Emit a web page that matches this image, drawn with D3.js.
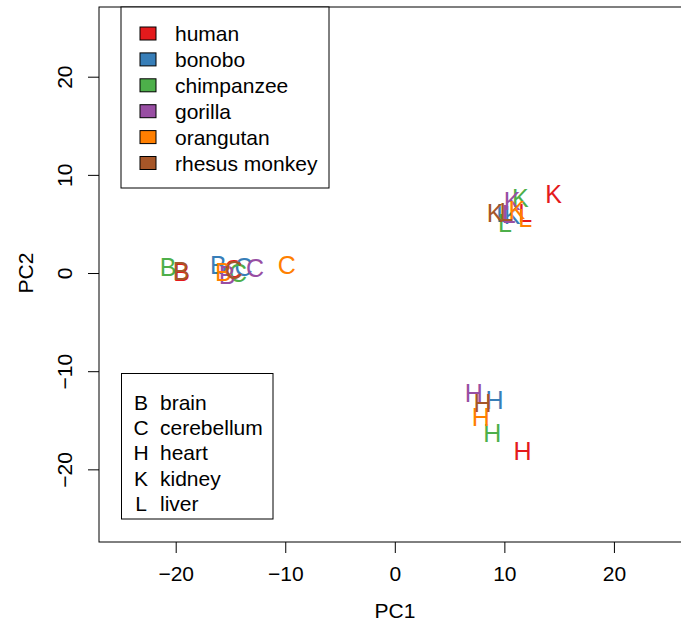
<!DOCTYPE html>
<html>
<head>
<meta charset="utf-8">
<script src="https://cdn.jsdelivr.net/npm/d3@7"></script>
<style>
  html, body { margin: 0; padding: 0; background: #fff; }
  svg { display: block; }
  text { font-family: "Liberation Sans", Arial, Helvetica, sans-serif; }
</style>
</head>
<body>
<svg id="chart" width="681" height="624"></svg>
<script>
// Species (colour legend) and tissue codes (letter legend)
const speciesNames = ["human", "bonobo", "chimpanzee", "gorilla", "orangutan", "rhesus monkey"];
const speciesColors = ["#E41A1C", "#377EB8", "#4DAF4A", "#984EA3", "#FF7F00", "#A65628"];
const tissueCodes = ["B", "C", "H", "K", "L"];
const tissueNames = ["brain", "cerebellum", "heart", "kidney", "liver"];

// Samples: species index, tissue code, PC1, PC2
const sampleSpecies = [
  0, 0, 0, 0, 0,
  1, 1, 1, 1, 1,
  2, 2, 2, 2, 2,
  3, 3, 3, 3, 3,
  4, 4, 4, 4, 4,
  5, 5, 5, 5, 5
];
const sampleTissue = [
  "B", "C", "H", "K", "L",
  "B", "C", "H", "K", "L",
  "B", "C", "H", "K", "L",
  "B", "C", "H", "K", "L",
  "B", "C", "H", "K", "L",
  "B", "C", "H", "K", "L"
];
const pc1 = [
  -19.45, -14.75, 11.65, 14.5, 11.9,
  -16.1, -13.8, 9.1, 10.7, 9.9,
  -20.7, -14.3, 8.9, 11.45, 10.05,
  -15.3, -12.75, 7.2, 10.7, 10.4,
  -15.65, -9.85, 7.85, 11.15, 11.9,
  -19.5, -14.7, 8.0, 9.15, 10.2
];
const pc2 = [
  0.13, 0.38, -18.1, 8.1, 6.1,
  0.8, 0.64, -12.93, 5.9, 6.1,
  0.6, 0.0, -16.3, 7.6, 5.05,
  -0.2, 0.48, -12.25, 7.3, 6.0,
  0.13, 0.8, -14.63, 6.4, 5.6,
  0.2, 0.3, -13.27, 6.1, 6.2
];

const xTicks = [-20, -10, 0, 10, 20];
const yTicks = [-20, -10, 0, 10, 20];

const svg = d3.select("#chart");
const fs = 21;        // axis and legend text
const markFs = 25;    // sample letters

const plot = { left: 99, top: 7, bottom: 542, right: 695 };

const x = d3.scaleLinear().domain([-27, 27.4]).range([plot.left, plot.right]);
const y = d3.scaleLinear().domain([-27.4, 27.1]).range([plot.bottom, plot.top]);

// Plot frame
svg.append("rect")
  .attr("x", plot.left).attr("y", plot.top)
  .attr("width", plot.right - plot.left).attr("height", plot.bottom - plot.top)
  .attr("fill", "none").attr("stroke", "#000").attr("stroke-width", 1);

// Axes
const xAxis = d3.axisBottom(x).tickValues(xTicks).tickSize(11).tickPadding(6)
  .tickFormat(d => d < 0 ? "\u2212" + Math.abs(d) : d);
const gx = svg.append("g").attr("transform", `translate(0,${plot.bottom})`).call(xAxis);
gx.select(".domain").remove();
gx.selectAll(".tick line").attr("stroke", "#000");
gx.selectAll(".tick text").attr("font-size", fs).attr("fill", "#000")
  .attr("font-family", "'Liberation Sans', Arial, sans-serif")
  .attr("dy", null).attr("y", 39);

const yAxis = d3.axisLeft(y).tickValues(yTicks).tickSize(11).tickPadding(6)
  .tickFormat(d => d < 0 ? "\u2212" + Math.abs(d) : d);
const gy = svg.append("g").attr("transform", `translate(${plot.left},0)`).call(yAxis);
gy.select(".domain").remove();
gy.selectAll(".tick line").attr("stroke", "#000");
gy.selectAll(".tick text")
  .attr("font-size", fs).attr("fill", "#000")
  .attr("font-family", "'Liberation Sans', Arial, sans-serif")
  .attr("x", null).attr("dy", null)
  .attr("text-anchor", "middle")
  .attr("transform", "translate(-27,0) rotate(-90)");

// Axis titles
svg.append("text")
  .attr("x", (x(-27) + x(27.4)) / 2 - 2)
  .attr("y", 618)
  .attr("text-anchor", "middle")
  .attr("font-size", fs)
  .text("PC1");
svg.append("text")
  .attr("transform", `translate(33,${y(0)}) rotate(-90)`)
  .attr("text-anchor", "middle")
  .attr("font-size", fs)
  .text("PC2");

// Sample letters
const samples = pc1.map((v, i) => ({ pc1: v, pc2: pc2[i], sp: sampleSpecies[i], t: sampleTissue[i] }));
svg.append("g").selectAll("text")
  .data(samples)
  .join("text")
  .attr("x", d => x(d.pc1))
  .attr("y", d => y(d.pc2))
  .attr("dy", "0.36em")
  .attr("text-anchor", "middle")
  .attr("font-size", markFs)
  .attr("fill", d => speciesColors[d.sp])
  .text(d => d.t);

// Species legend
const lg1 = svg.append("g");
lg1.append("rect")
  .attr("x", 121).attr("y", plot.top)
  .attr("width", 208).attr("height", 181)
  .attr("fill", "#fff").attr("stroke", "#000").attr("stroke-width", 1);
speciesNames.forEach((name, i) => {
  const cy = 33.5 + i * 25.9;
  lg1.append("rect")
    .attr("x", 140).attr("y", cy - 6.5)
    .attr("width", 16).attr("height", 13)
    .attr("fill", speciesColors[i]).attr("stroke", "#000").attr("stroke-width", 1);
  lg1.append("text")
    .attr("x", 175).attr("y", cy).attr("dy", "0.36em")
    .attr("font-size", fs)
    .text(name);
});

// Tissue legend
const lg2 = svg.append("g");
lg2.append("rect")
  .attr("x", 121.5).attr("y", 373.5)
  .attr("width", 151.5).attr("height", 145.5)
  .attr("fill", "#fff").attr("stroke", "#000").attr("stroke-width", 1);
tissueCodes.forEach((code, i) => {
  const cy = 402.3 + i * 25.3;
  lg2.append("text")
    .attr("x", 141).attr("y", cy).attr("dy", "0.36em")
    .attr("text-anchor", "middle")
    .attr("font-size", fs)
    .text(code);
  lg2.append("text")
    .attr("x", 160).attr("y", cy).attr("dy", "0.36em")
    .attr("font-size", fs)
    .text(tissueNames[i]);
});
</script>
</body>
</html>
